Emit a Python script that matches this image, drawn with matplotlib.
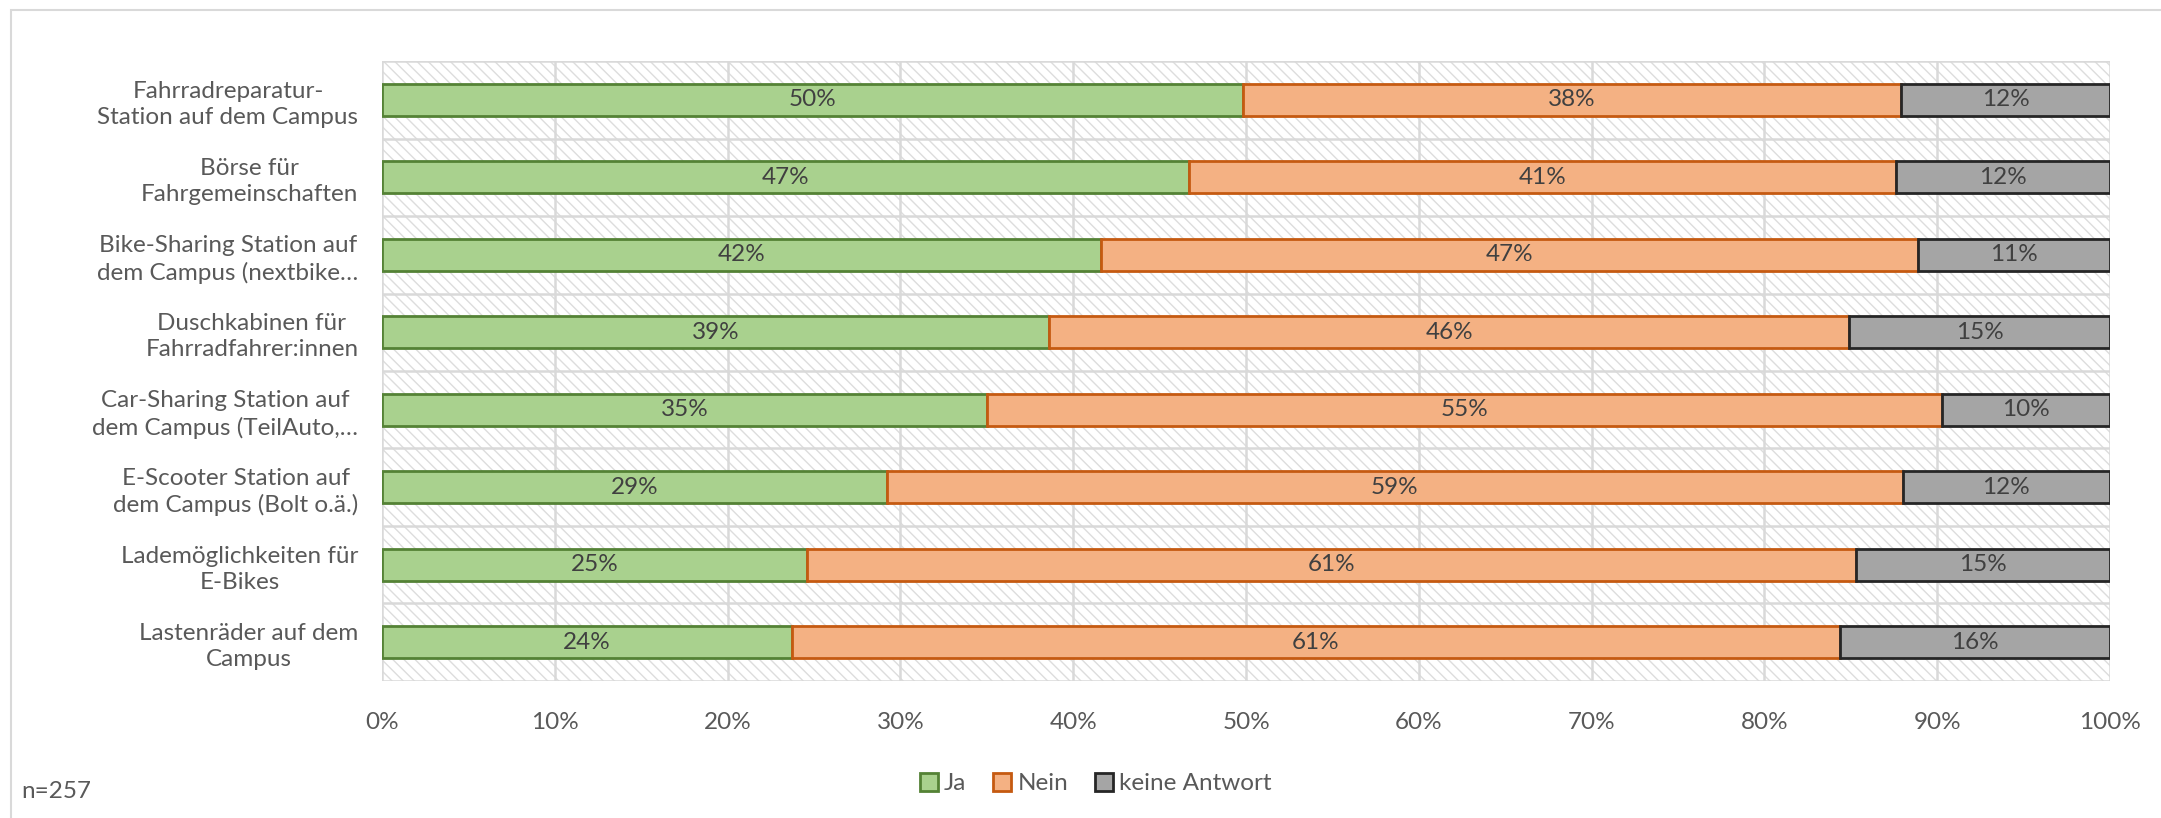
import numpy as np
import matplotlib
matplotlib.use("Agg")
import matplotlib.pyplot as plt
from matplotlib.patches import Rectangle, Patch

# survey answers per offer, in percent (n=257)
categories = [
    "Fahrradreparatur-\nStation auf dem Campus",
    "Börse für\nFahrgemeinschaften",
    "Bike-Sharing Station auf\ndem Campus (nextbike…",
    "Duschkabinen für\nFahrradfahrer:innen",
    "Car-Sharing Station auf\ndem Campus (TeilAuto,…",
    "E-Scooter Station auf\ndem Campus (Bolt o.ä.)",
    "Lademöglichkeiten für\nE-Bikes",
    "Lastenräder auf dem\nCampus",
]
ja = [49.8, 46.7, 41.6, 38.6, 35.0, 29.2, 24.6, 23.7]
nein = [38.1, 40.9, 47.3, 46.3, 55.3, 58.8, 60.7, 60.7]
keine = [100 - a - b for a, b in zip(ja, nein)]
series_names = ["Ja", "Nein", "keine Antwort"]
x_ticks = [0, 10, 20, 30, 40, 50, 60, 70, 80, 90, 100]

fills = ["#A9D18E", "#F4B183", "#A5A5A5"]
edges = ["#548235", "#C55A11", "#262626"]
grid_col = "#D9D9D9"
text_col = "#595959"
fs = 17.5

plt.rcParams['font.family'] = ['Lato', 'DejaVu Sans']
plt.rcParams['hatch.linewidth'] = 1.0

fig = plt.figure(figsize=(21.61, 8.18), dpi=100)
ax = fig.add_axes([0.1768, 0.1675, 0.7996, 0.7579])

# hatched background of the plot area
bg = Rectangle((0, 0), 1, 1, transform=ax.transAxes, facecolor="white",
               edgecolor="#DDDDDD", hatch="\\\\\\", lw=0, zorder=-1)
ax.add_patch(bg)

y = np.arange(len(categories))
left = np.zeros(len(categories))
for vals, name, fc, ec in zip([ja, nein, keine], series_names, fills, edges):
    bars = ax.barh(y, vals, left=left, height=0.41, color=fc, edgecolor=ec,
                   linewidth=2, label=name, zorder=3)
    ax.bar_label(bars, labels=[f"{v:.0f}%" for v in vals], label_type="center",
                 fontsize=fs, color="#404040")
    left = left + np.array(vals)

ax.set_xlim(0, 100)
ax.set_ylim(len(categories) - 0.5, -0.5)
ax.set_xticks(x_ticks)
ax.set_xticklabels([f"{t}%" for t in x_ticks])
ax.set_yticks(y)
ax.set_yticklabels(categories, multialignment="center", linespacing=1.3)
ax.set_yticks(np.arange(-0.5, len(categories)), minor=True)
ax.tick_params(axis="both", which="both", length=0, labelsize=fs,
               labelcolor=text_col)
ax.tick_params(axis="x", pad=22)
ax.tick_params(axis="y", pad=17)
ax.grid(axis="x", color=grid_col, linewidth=1.8, zorder=0.5)
ax.grid(axis="y", which="minor", color=grid_col, linewidth=1.8, zorder=0.5)
ax.set_axisbelow(True)
for s in ax.spines.values():
    s.set_visible(False)

# legend and sample size note
handles = [Patch(facecolor=fc, edgecolor=ec, linewidth=2, label=n)
           for n, fc, ec in zip(series_names, fills, edges)]
fig.legend(handles=handles, loc="center", bbox_to_anchor=(0.507, 0.042),
           ncol=3, frameon=False, fontsize=fs, labelcolor=text_col,
           handlelength=0.75, handleheight=0.75, handletextpad=0.25,
           columnspacing=1.1)
fig.text(0.01, 0.032, "n=257", fontsize=fs, color=text_col, va="center")

# chart frame
fig.add_artist(Rectangle((0.005, -0.1), 1.2, 1.088, transform=fig.transFigure,
                         fill=False, edgecolor=grid_col, linewidth=1.5))

fig.savefig("out.png", dpi=100)
